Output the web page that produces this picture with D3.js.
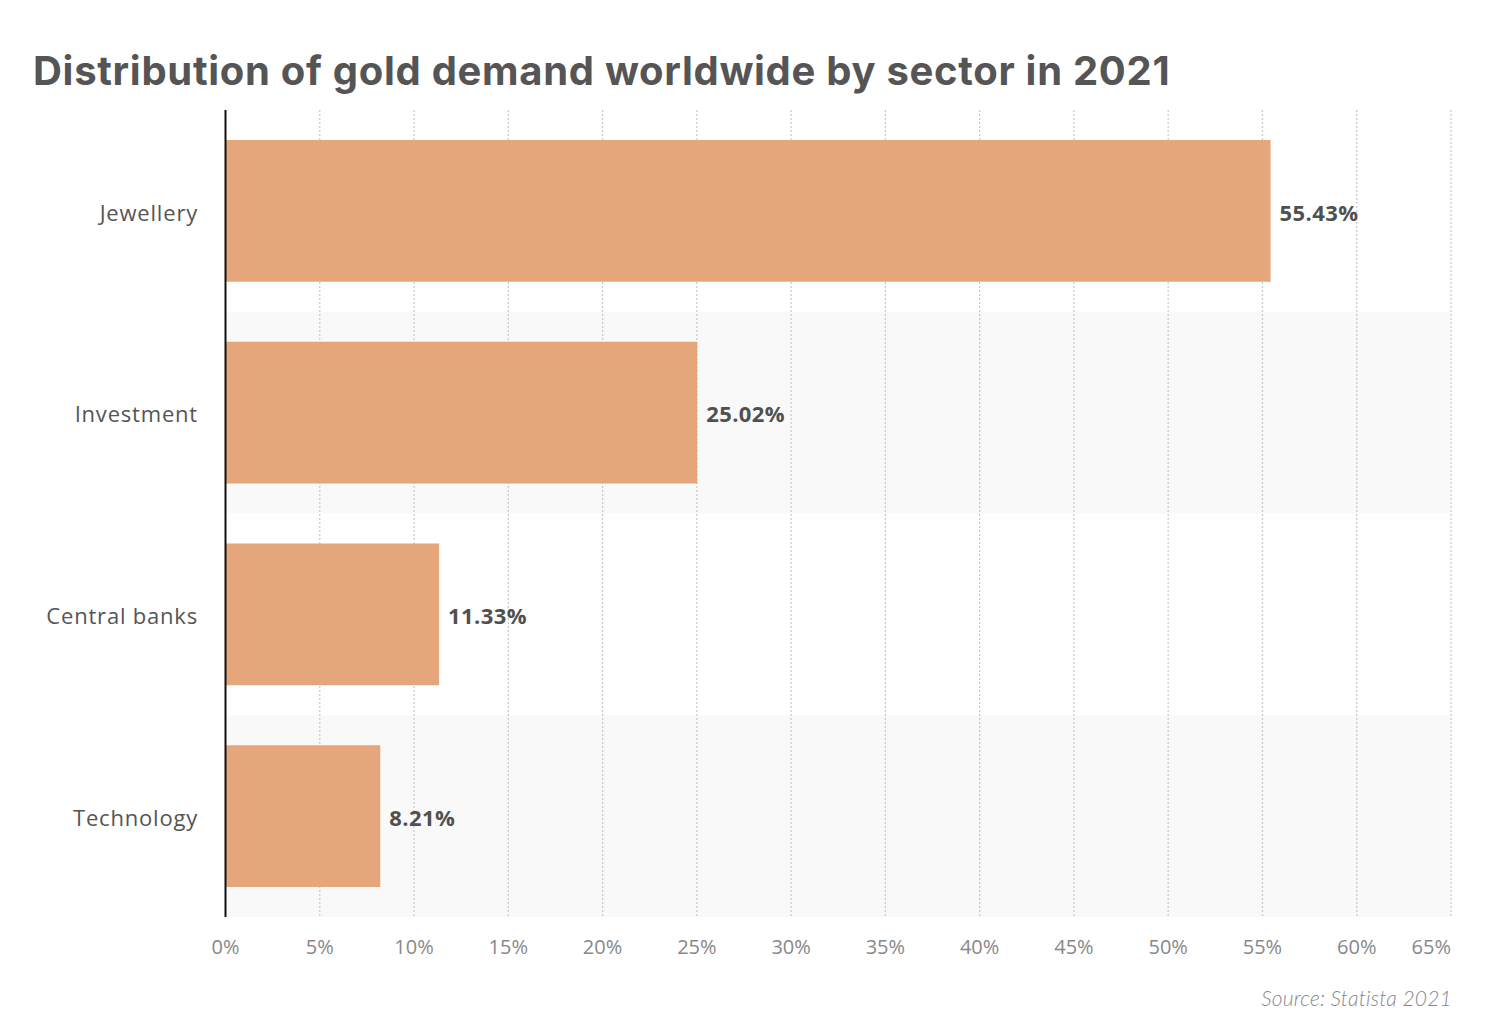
<!DOCTYPE html>
<html><head><meta charset="utf-8">
<script src="https://cdn.jsdelivr.net/npm/d3@7/dist/d3.min.js"></script>
<style>body{margin:0;background:#fff;}svg{display:block;}</style>
</head><body>
<svg id="c" width="1500" height="1028"></svg>
<script>
const categories = ["Jewellery","Investment","Central banks","Technology"];
const values = [55.43, 25.02, 11.33, 8.21];
const ticks = [0,5,10,15,20,25,30,35,40,45,50,55,60,65];
const title = "Distribution of gold demand worldwide by sector in 2021";
const source = "Source: Statista 2021";

const svg = d3.select("#c");
const m = {left:225.5, right:1451, top:110, bottom:917};
const x = d3.scaleLinear().domain([0,65]).range([m.left, m.right]);
const y = d3.scaleBand().domain(categories).range([m.top, m.bottom]).paddingInner(0).paddingOuter(0);
const barPad = 30;

// alternating bands
svg.append("g").selectAll("rect").data(categories.filter((d,i)=>i%2===1)).join("rect")
  .attr("x", m.left).attr("width", m.right - m.left)
  .attr("y", d=>y(d)).attr("height", y.bandwidth()).attr("fill","#f9f9f9");

// gridlines
svg.append("g").selectAll("line").data(ticks.filter(t=>t>0)).join("line")
  .attr("x1", d=>x(d)).attr("x2", d=>x(d)).attr("y1", m.top).attr("y2", m.bottom)
  .attr("stroke","#c8c8c8").attr("stroke-width",1.2).attr("stroke-dasharray","2,2");

// bars
svg.append("g").selectAll("rect").data(values).join("rect")
  .attr("x", x(0)).attr("y",(d,i)=>y(categories[i])+barPad)
  .attr("width", d=>x(d)-x(0)).attr("height", y.bandwidth()-2*barPad)
  .attr("fill","#e4a67a");

// data labels
svg.append("g").selectAll("text").data(values).join("text")
  .attr("x", d=>x(d)+9).attr("y",(d,i)=>y(categories[i])+y.bandwidth()/2+2)
  .attr("dy","0.35em")
  .attr("font-family","'Open Sans', sans-serif").attr("font-weight",700)
  .attr("font-size",22).attr("fill","#505050").attr("letter-spacing","0.4px")
  .text(d=>d.toFixed(2)+"%");

// y axis line
svg.append("line").attr("x1",m.left).attr("x2",m.left).attr("y1",m.top).attr("y2",m.bottom)
  .attr("stroke","#111").attr("stroke-width",2);

// category labels
svg.append("g").selectAll("text").data(categories).join("text")
  .attr("x", 198).attr("y", d=>y(d)+y.bandwidth()/2+2).attr("dy","0.35em")
  .attr("text-anchor","end")
  .attr("font-family","'Open Sans', sans-serif").attr("font-size",22).attr("fill","#555")
  .attr("letter-spacing","0.8px")
  .text(d=>d);

// x tick labels
svg.append("g").selectAll("text").data(ticks).join("text")
  .attr("x", d=>x(d)).attr("y", 947).attr("dy","0.35em")
  .attr("text-anchor", d=> d===65 ? "end" : "middle")
  .attr("font-family","'Open Sans', sans-serif").attr("font-size",20).attr("fill","#888")
  .text(d=>d+"%");

// title
svg.append("text").attr("x",33).attr("y",85)
  .attr("font-family","Inter, sans-serif").attr("font-weight",700)
  .attr("font-size",40).attr("fill","#555").attr("letter-spacing","0.7px")
  .text(title);

// source
svg.append("text").attr("x",1452).attr("y",1006).attr("text-anchor","end")
  .attr("font-family","Lato, sans-serif").attr("font-style","italic").attr("font-weight",300)
  .attr("font-size",21).attr("fill","#888").attr("letter-spacing","0.2px")
  .text(source);
</script>
</body></html>
